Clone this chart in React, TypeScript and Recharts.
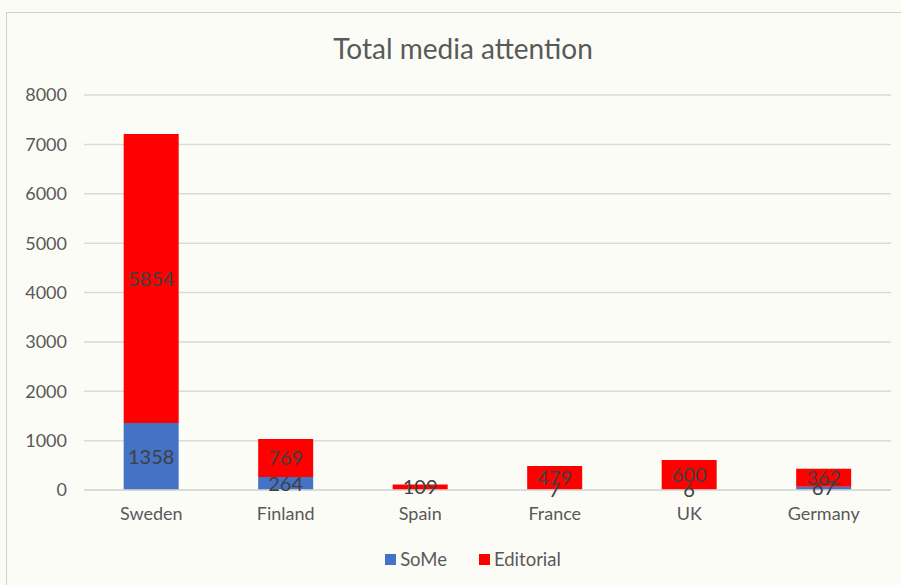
import {
  BarChart,
  Bar,
  XAxis,
  YAxis,
  CartesianGrid,
  LabelList,
} from 'recharts';

const countries = ['Sweden', 'Finland', 'Spain', 'France', 'UK', 'Germany'];
const someValues = [1358, 264, 0, 7, 6, 67];
const editorialValues = [5854, 769, 109, 479, 600, 362];
const yTicks = [0, 1000, 2000, 3000, 4000, 5000, 6000, 7000, 8000];

const data = countries.map((country, i) => ({
  country,
  SoMe: someValues[i],
  Editorial: editorialValues[i],
}));

const FONT = 'Lato, "Open Sans", sans-serif';
const TEXT = '#595959';

export default function App() {
  return (
    <div
      style={{
        position: 'absolute',
        left: 0,
        top: 0,
        width: 901,
        height: 585,
        background: '#fcfcf7',
        fontFamily: FONT,
        overflow: 'hidden',
      }}
    >
      <div
        style={{
          position: 'absolute',
          left: 6,
          top: 12,
          width: 900,
          height: 580,
          border: '1px solid #d0d0d0',
        }}
      />
      <div
        style={{
          position: 'absolute',
          top: 31,
          left: 0,
          width: 926,
          textAlign: 'center',
          fontSize: 28,
          color: TEXT,
        }}
      >
        Total media attention
      </div>
      <div style={{ position: 'absolute', left: 0, top: 0 }}>
        <BarChart
          width={901}
          height={585}
          data={data}
          margin={{ top: 95, right: 10, left: 0, bottom: 0 }}
          barCategoryGap="29.5%"
        >
          <CartesianGrid vertical={false} stroke="#d9d9d9" strokeWidth={1.5} />
          <XAxis
            dataKey="country"
            height={95}
            tickLine={false}
            axisLine={{ stroke: '#d9d9d9', strokeWidth: 1.5 }}
            tickMargin={11}
            tick={{ fontSize: 18, fill: TEXT, fontFamily: FONT }}
          />
          <YAxis
            width={84}
            domain={[0, 8000]}
            ticks={yTicks}
            tickLine={false}
            axisLine={false}
            tickMargin={11}
            tick={{ fontSize: 18, fill: TEXT, fontFamily: FONT }}
          />
          <Bar dataKey="SoMe" stackId="a" fill="#4472C4" isAnimationActive={false}>
            <LabelList dataKey="SoMe" position="center" fill="#404040" fontSize={20} fontFamily={FONT} />
          </Bar>
          <Bar dataKey="Editorial" stackId="a" fill="#FF0000" isAnimationActive={false}>
            <LabelList dataKey="Editorial" position="center" fill="#404040" fontSize={20} fontFamily={FONT} />
          </Bar>
        </BarChart>
      </div>
      <div
        style={{
          position: 'absolute',
          top: 548,
          left: 0,
          width: 946,
          display: 'flex',
          justifyContent: 'center',
          gap: 32,
          fontSize: 18.5,
          color: TEXT,
        }}
      >
        <span style={{ display: 'flex', alignItems: 'center', gap: 4 }}>
          <span style={{ width: 11, height: 11, background: '#4472C4', display: 'inline-block' }} />
          SoMe
        </span>
        <span style={{ display: 'flex', alignItems: 'center', gap: 4 }}>
          <span style={{ width: 11, height: 11, background: '#FF0000', display: 'inline-block' }} />
          Editorial
        </span>
      </div>
    </div>
  );
}
